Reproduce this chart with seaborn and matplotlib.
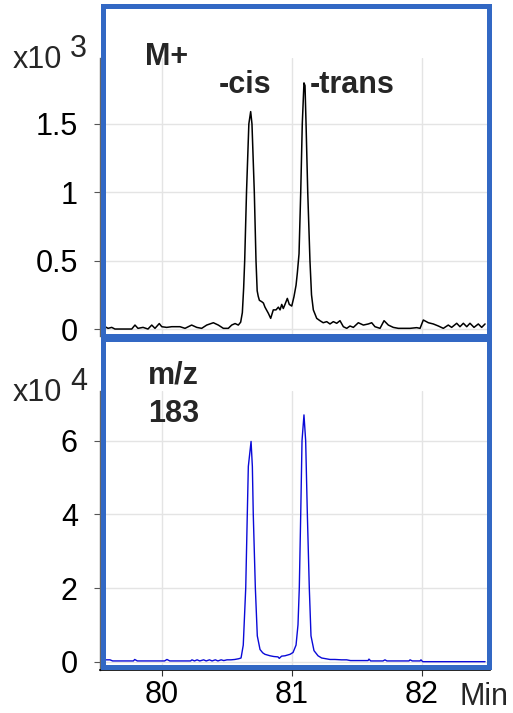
import matplotlib
matplotlib.use("Agg")
import matplotlib.pyplot as plt
import seaborn as sns
from matplotlib.patches import Rectangle

# ---------------- data ----------------
# M+ trace, intensity in units of 10^3
time_mplus = [
    79.562, 79.585, 79.613, 79.638, 79.700, 79.767, 79.792, 79.815, 79.854, 79.892,
    79.921, 79.946, 79.979, 79.998, 80.036, 80.075, 80.138, 80.177, 80.228, 80.267,
    80.305, 80.344, 80.395, 80.433, 80.472, 80.510, 80.536, 80.562, 80.587, 80.605,
    80.618, 80.628, 80.636, 80.650, 80.668, 80.682, 80.692, 80.710, 80.723, 80.732,
    80.740, 80.749, 80.767, 80.780, 80.792, 80.818, 80.836, 80.856, 80.877, 80.895,
    80.908, 80.921, 80.933, 80.946, 80.964, 80.979, 80.998, 81.015, 81.031, 81.041,
    81.054, 81.067, 81.079, 81.092, 81.100, 81.108, 81.121, 81.138, 81.150, 81.164,
    81.190, 81.215, 81.240, 81.267, 81.292, 81.318, 81.344, 81.369, 81.395, 81.421,
    81.446, 81.472, 81.510, 81.549, 81.587, 81.613, 81.638, 81.677, 81.708, 81.741,
    81.779, 81.818, 81.856, 81.908, 81.959, 81.985, 82.010, 82.049, 82.087, 82.126,
    82.164, 82.202, 82.228, 82.267, 82.292, 82.318, 82.344, 82.369, 82.400, 82.433,
    82.459, 82.485,
]
int_mplus = [
    0.017, 0.005, 0.012, 0.000, 0.000, 0.000, 0.029, 0.005, 0.012, 0.000,
    0.029, 0.005, 0.040, 0.017, 0.012, 0.017, 0.017, 0.005, 0.029, 0.012,
    0.005, 0.029, 0.046, 0.029, 0.005, 0.005, 0.029, 0.040, 0.029, 0.050,
    0.120, 0.300, 0.500, 1.000, 1.500, 1.590, 1.500, 1.000, 0.500, 0.280,
    0.240, 0.210, 0.200, 0.190, 0.160, 0.115, 0.078, 0.140, 0.140, 0.160,
    0.140, 0.180, 0.150, 0.180, 0.224, 0.180, 0.168, 0.236, 0.320, 0.410,
    0.550, 1.000, 1.500, 1.800, 1.780, 1.500, 1.000, 0.500, 0.250, 0.140,
    0.078, 0.061, 0.046, 0.054, 0.037, 0.054, 0.042, 0.061, 0.017, 0.005,
    0.022, 0.012, 0.046, 0.029, 0.037, 0.046, 0.017, 0.005, 0.061, 0.029,
    0.012, 0.005, 0.005, 0.005, 0.010, 0.005, 0.066, 0.046, 0.037, 0.022,
    0.005, 0.029, 0.012, 0.042, 0.017, 0.042, 0.017, 0.042, 0.012, 0.037,
    0.012, 0.037,
]

# m/z 183 trace, intensity in units of 10^4
time_mz183 = [
    79.562, 79.600, 79.620, 79.700, 79.780, 79.790, 79.810, 79.900, 80.020, 80.038,
    80.060, 80.150, 80.220, 80.230, 80.250, 80.270, 80.290, 80.320, 80.340, 80.365,
    80.385, 80.410, 80.430, 80.455, 80.475, 80.500, 80.530, 80.560, 80.590, 80.608,
    80.625, 80.644, 80.656, 80.664, 80.685, 80.695, 80.702, 80.718, 80.733, 80.754,
    80.775, 80.792, 80.831, 80.860, 80.892, 80.902, 80.920, 80.946, 80.985, 81.008,
    81.031, 81.046, 81.056, 81.067, 81.077, 81.092, 81.105, 81.118, 81.133, 81.146,
    81.169, 81.200, 81.228, 81.260, 81.292, 81.330, 81.380, 81.420, 81.450, 81.520,
    81.585, 81.592, 81.605, 81.700, 81.715, 81.730, 81.900, 81.908, 81.925, 81.985,
    81.992, 82.005, 82.200, 82.485,
]
int_mz183 = [
    0.05, 0.05, 0.02, 0.02, 0.02, 0.06, 0.02, 0.02, 0.02, 0.06,
    0.02, 0.02, 0.02, 0.05, 0.02, 0.05, 0.02, 0.05, 0.02, 0.05,
    0.02, 0.05, 0.02, 0.05, 0.03, 0.05, 0.05, 0.06, 0.08, 0.10,
    0.45, 2.00, 4.00, 5.30, 5.98, 5.30, 4.00, 2.00, 0.70, 0.33,
    0.24, 0.20, 0.16, 0.14, 0.13, 0.09, 0.15, 0.16, 0.20, 0.25,
    0.45, 1.00, 2.00, 4.00, 6.00, 6.70, 6.00, 4.00, 2.00, 0.70,
    0.30, 0.16, 0.10, 0.08, 0.06, 0.06, 0.05, 0.05, 0.03, 0.03,
    0.03, 0.07, 0.02, 0.02, 0.05, 0.02, 0.02, 0.05, 0.02, 0.02,
    0.05, 0.00, 0.00, 0.00,
]

x_ticks = [80, 81, 82]
x_ticklabels = ["80", "81", "82"]
top_yticks = [0, 0.5, 1, 1.5]
top_yticklabels = ["0", "0.5", "1", "1.5"]
bottom_yticks = [0, 2, 4, 6]
bottom_yticklabels = ["0", "2", "4", "6"]

# ---------------- styling ----------------
sns.set_theme(style="white")
plt.rcParams['font.family'] = ['Liberation Sans', 'DejaVu Sans']

W, H = 513, 713
fig = plt.figure(figsize=(W / 100, H / 100), dpi=100)


def box(l, t, r, b):
    return [l / W, 1 - b / H, (r - l) / W, (b - t) / H]


def fx(px):
    return px / W


def fy(py):
    return 1 - py / H


ax1 = fig.add_axes(box(100, 58, 490, 336))
ax2 = fig.add_axes(box(100, 391, 490, 670))

BLUE_FRAME = "#3268c4"
GRID = "#e4e4e4"
FS = 22

sns.lineplot(x=time_mplus, y=int_mplus, ax=ax1, color="black", linewidth=1.1,
             estimator=None, sort=False)
sns.lineplot(x=time_mz183, y=int_mz183, ax=ax2, color="#0a0ad8", linewidth=1.0,
             estimator=None, sort=False)

for ax in (ax1, ax2):
    ax.set_xlim(79.523, 82.523)
    ax.set_xticks(x_ticks)
    ax.grid(True, color=GRID, linewidth=1.0)
    ax.set_axisbelow(True)
    ax.set_xlabel("")
    ax.set_ylabel("")
    ax.set_facecolor("white")
    for s in ("top", "right"):
        ax.spines[s].set_visible(False)
    ax.spines["left"].set_color("#666666")
    ax.spines["left"].set_linewidth(1.0)
    ax.tick_params(axis="y", left=True, length=4, width=0.8, color="#555555",
                   pad=12, labelsize=FS, labelcolor="black")

ax1.set_ylim(-0.051, 1.982)
ax1.set_yticks(top_yticks)
ax1.set_yticklabels(top_yticklabels)
ax1.spines["bottom"].set_visible(False)
ax1.tick_params(axis="x", bottom=False, labelbottom=False)

ax2.set_ylim(-0.226, 7.349)
ax2.set_yticks(bottom_yticks)
ax2.set_yticklabels(bottom_yticklabels)
ax2.set_xticklabels(x_ticklabels)
ax2.spines["bottom"].set_color("black")
ax2.spines["bottom"].set_linewidth(1.2)
ax2.tick_params(axis="x", bottom=True, length=4, width=0.8, color="#333333",
                pad=3, labelsize=FS, labelcolor="black")

# blue frames around each panel
for (l, t, r, b) in [(102.5, 6, 489, 336), (102.5, 339, 489, 667)]:
    fig.add_artist(Rectangle((fx(l), fy(b)), (r - l) / W, (b - t) / H,
                             transform=fig.transFigure, fill=False,
                             edgecolor=BLUE_FRAME, linewidth=3.6, zorder=10))

# texts
fig.text(fx(13), fy(68), "x10", fontsize=FS, ha="left", va="baseline")
fig.text(fx(70), fy(57), "3", fontsize=FS, ha="left", va="baseline")
fig.text(fx(13), fy(401), "x10", fontsize=FS, ha="left", va="baseline")
fig.text(fx(70), fy(390), "4", fontsize=FS, ha="left", va="baseline")

fig.text(fx(145), fy(65), "M+", fontsize=FS, fontweight="bold", ha="left", va="baseline")
fig.text(fx(219), fy(93), "-cis", fontsize=FS, fontweight="bold", ha="left", va="baseline")
fig.text(fx(310), fy(93), "-trans", fontsize=FS, fontweight="bold", ha="left", va="baseline")
fig.text(fx(148), fy(384), "m/z", fontsize=FS, fontweight="bold", ha="left", va="baseline")
fig.text(fx(148), fy(422), "183", fontsize=FS, fontweight="bold", ha="left", va="baseline")
fig.text(fx(460), fy(705), "Min", fontsize=FS, ha="left", va="baseline")

fig.savefig("out.png", dpi=100)
